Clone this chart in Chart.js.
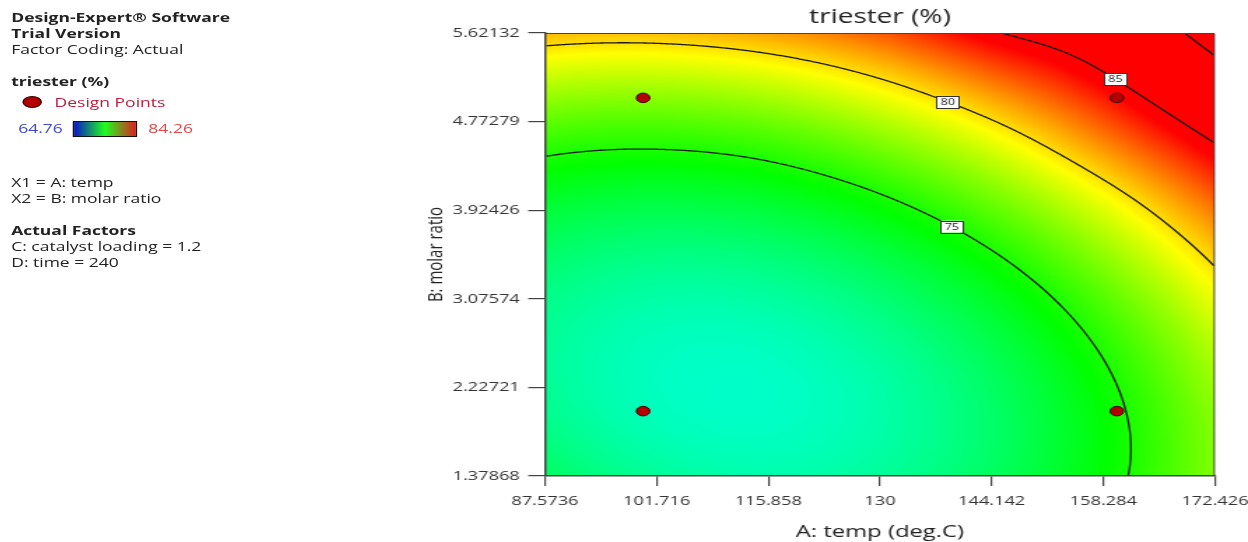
<!DOCTYPE html>
<html>
<head>
<meta charset="utf-8">
<title>triester (%)</title>
<script src="https://cdn.jsdelivr.net/npm/chart.js@4.4.1/dist/chart.umd.min.js"></script>
<style>
  html, body { margin: 0; padding: 0; background: #fff; overflow: hidden; }
  /* the reference is stretched sideways, so draw narrow and widen the whole page */
  #stage { position: absolute; left: 0; top: 0; width: 892px; height: 542px;
           transform: scaleX(1.3991); transform-origin: 0 0;
           font-family: 'Open Sans', sans-serif; color: #222; }
  #chart { position: absolute; left: 0; top: 0; }
  .line { position: absolute; left: 8px; font-size: 12.5px; line-height: 16px; white-space: pre; }
  .b { font-weight: bold; }
  .dot { position: absolute; left: 16px; top: 96px; width: 14px; height: 12px; border-radius: 50%;
         background: #b40000; border: 1px solid #300; box-sizing: border-box; }
  .bar { position: absolute; left: 52px; top: 121px; width: 46px; height: 16px; box-sizing: border-box;
         border: 1px solid #111; background: linear-gradient(to right, #0a14c8, #1eff1e, #e01e1e); }
</style>
</head>
<body>
<div id="stage">
  <div class="line b" style="top:10px">Design-Expert® Software</div>
  <div class="line b" style="top:26px">Trial Version</div>
  <div class="line" style="top:42px">Factor Coding: Actual</div>
  <div class="line b" style="top:74px">triester (%)</div>
  <div class="dot"></div>
  <div class="line" style="top:95px; left:39px; color:#b8203c">Design Points</div>
  <div class="line" style="top:121px; left:13px; color:#4048c8">64.76</div>
  <div class="bar"></div>
  <div class="line" style="top:121px; left:106px; color:#e04848">84.26</div>
  <div class="line" style="top:175px">X1 = A: temp</div>
  <div class="line" style="top:191px">X2 = B: molar ratio</div>
  <div class="line b" style="top:223px">Actual Factors</div>
  <div class="line" style="top:239px">C: catalyst loading = 1.2</div>
  <div class="line" style="top:255px">D: time = 240</div>
  <canvas id="chart" width="892" height="542"></canvas>
</div>
<script>
const tempTicks = [87.5736, 101.716, 115.858, 130, 144.142, 158.284, 172.426];
const ratioTicks = [1.37868, 2.22721, 3.07574, 3.92426, 4.77279, 5.62132];
const triester = [
  [72.69, 71.60, 71.24, 71.60, 72.69, 74.50, 77.04],
  [71.70, 70.85, 70.72, 71.31, 72.63, 74.68, 77.45],
  [71.95, 71.33, 71.44, 72.27, 73.82, 76.10, 79.10],
  [73.45, 73.06, 73.40, 74.46, 76.25, 78.76, 81.99],
  [76.30, 76.10, 76.59, 77.89, 79.91, 82.66, 86.13],
  [80.75, 80.60, 81.20, 82.56, 84.82, 86.90, 91.50]
];
const designTemp = [100, 160, 100, 160];
const designRatio = [2, 2, 5, 5];
const contourLevels = [75, 80, 85, 90];
const colourRange = [64.76, 84.26];

const nx = tempTicks.length, ny = ratioTicks.length;

// pad the grid by one cell on each side so the smooth shading keeps going to the frame
function cellAt(i, j) {
  if (j < 0) return 3 * cellAt(i, 0) - 3 * cellAt(i, 1) + cellAt(i, 2);
  if (j >= ny) return 3 * cellAt(i, ny - 1) - 3 * cellAt(i, ny - 2) + cellAt(i, ny - 3);
  const row = triester[j];
  if (i < 0) return 3 * row[0] - 3 * row[1] + row[2];
  if (i >= nx) return 3 * row[nx - 1] - 3 * row[nx - 2] + row[nx - 3];
  return row[i];
}
const ext = [];
for (let j = -1; j <= ny; j++) {
  const row = [];
  for (let i = -1; i <= nx; i++) row.push(cellAt(i, j));
  ext.push(row);
}

function cr(p0, p1, p2, p3, t) {
  return p1 + 0.5 * t * (p2 - p0 + t * (2 * p0 - 5 * p1 + 4 * p2 - p3 + t * (3 * (p1 - p2) + p3 - p0)));
}

function surfaceAt(t, r) {
  const u = (t - tempTicks[0]) / (tempTicks[1] - tempTicks[0]);
  const v = (r - ratioTicks[0]) / (ratioTicks[1] - ratioTicks[0]);
  const i = Math.min(Math.max(Math.floor(u), 0), nx - 2);
  const j = Math.min(Math.max(Math.floor(v), 0), ny - 2);
  const fu = u - i, fv = v - j;
  const col = [];
  for (let k = 0; k < 4; k++) {
    const row = ext[j + k];
    col.push(cr(row[i], row[i + 1], row[i + 2], row[i + 3], fu));
  }
  return cr(col[0], col[1], col[2], col[3], fv);
}

// blue - cyan - green - yellow - red
const ramp = [[0, 0, 255], [0, 255, 255], [0, 255, 0], [255, 255, 0], [255, 0, 0]];
function colourFor(z) {
  let t = (z - colourRange[0]) / (colourRange[1] - colourRange[0]);
  t = Math.min(Math.max(t, 0), 1) * 4;
  const k = Math.min(Math.floor(t), 3), f = t - k;
  const a = ramp[k], b = ramp[k + 1];
  return [a[0] + (b[0] - a[0]) * f, a[1] + (b[1] - a[1]) * f, a[2] + (b[2] - a[2]) * f];
}

const surfacePlugin = {
  id: 'surface',
  beforeDraw(chart, args, opts) {
    const { ctx, chartArea: area, scales: { x, y } } = chart;
    const left = Math.round(area.left), top = Math.round(area.top);
    const w = Math.round(area.right) - left, h = Math.round(area.bottom) - top;
    const off = document.createElement('canvas');
    off.width = w; off.height = h;
    const octx = off.getContext('2d');
    const img = octx.createImageData(w, h);
    const field = new Float32Array(w * h);
    for (let py = 0; py < h; py++) {
      const r = y.getValueForPixel(top + py + 0.5);
      for (let px = 0; px < w; px++) {
        const z = surfaceAt(x.getValueForPixel(left + px + 0.5), r);
        field[py * w + px] = z;
        const c = colourFor(z), o = (py * w + px) * 4;
        img.data[o] = c[0]; img.data[o + 1] = c[1]; img.data[o + 2] = c[2]; img.data[o + 3] = 255;
      }
    }
    octx.putImageData(img, 0, 0);
    ctx.drawImage(off, left, top);

    // contour lines, marching squares over the shaded field
    ctx.save();
    ctx.beginPath();
    ctx.rect(area.left, area.top, area.right - area.left, area.bottom - area.top);
    ctx.clip();
    ctx.strokeStyle = '#1a1a1a';
    ctx.lineWidth = 1.3;
    ctx.beginPath();
    for (const level of contourLevels) {
      for (let py = 0; py < h - 1; py++) {
        for (let px = 0; px < w - 1; px++) {
          const v00 = field[py * w + px], v10 = field[py * w + px + 1];
          const v01 = field[(py + 1) * w + px], v11 = field[(py + 1) * w + px + 1];
          const pts = [];
          const X = left + px + 0.5, Y = top + py + 0.5;
          if ((v00 < level) !== (v10 < level)) pts.push([X + (level - v00) / (v10 - v00), Y]);
          if ((v10 < level) !== (v11 < level)) pts.push([X + 1, Y + (level - v10) / (v11 - v10)]);
          if ((v01 < level) !== (v11 < level)) pts.push([X + (level - v01) / (v11 - v01), Y + 1]);
          if ((v00 < level) !== (v01 < level)) pts.push([X, Y + (level - v00) / (v01 - v00)]);
          for (let k = 0; k + 1 < pts.length; k += 2) {
            ctx.moveTo(pts[k][0], pts[k][1]);
            ctx.lineTo(pts[k + 1][0], pts[k + 1][1]);
          }
        }
      }
    }
    ctx.stroke();

    // level tags sitting on the lines
    ctx.font = '9px "Open Sans", sans-serif';
    ctx.textAlign = 'center';
    ctx.textBaseline = 'middle';
    ctx.lineWidth = 1;
    for (const tag of opts.tags) {
      let hi = ratioTicks[ny - 1], lo = hi;
      while (lo > ratioTicks[0] && surfaceAt(tag.temp, lo) >= tag.level) lo -= 0.01;
      for (let k = 0; k < 30; k++) {
        const mid = (hi + lo) / 2;
        if (surfaceAt(tag.temp, mid) >= tag.level) hi = mid; else lo = mid;
      }
      const cx = x.getPixelForValue(tag.temp), cy = y.getPixelForValue((hi + lo) / 2);
      const label = String(tag.level);
      const bw = ctx.measureText(label).width + 6, bh = 12;
      ctx.fillStyle = '#fff';
      ctx.fillRect(cx - bw / 2, cy - bh / 2, bw, bh);
      ctx.strokeStyle = '#333';
      ctx.strokeRect(Math.round(cx - bw / 2) + 0.5, Math.round(cy - bh / 2) + 0.5, Math.round(bw), bh);
      ctx.fillStyle = '#222';
      ctx.fillText(label, cx, cy + 0.5);
    }
    ctx.restore();

    // frame on the top and right side
    ctx.save();
    ctx.strokeStyle = '#444';
    ctx.lineWidth = 1;
    ctx.beginPath();
    ctx.moveTo(area.left, area.top + 0.5);
    ctx.lineTo(area.right - 0.5, area.top + 0.5);
    ctx.lineTo(area.right - 0.5, area.bottom);
    ctx.stroke();
    ctx.restore();
  }
};

const tickFont = { family: "'Open Sans', sans-serif", size: 13 };

new Chart(document.getElementById('chart'), {
  type: 'scatter',
  data: {
    datasets: [{
      label: 'Design Points',
      data: designTemp.map((t, k) => ({ x: t, y: designRatio[k] })),
      pointRadius: 4.8,
      pointHoverRadius: 4.8,
      pointBackgroundColor: '#b40000',
      pointBorderColor: '#3a0000',
      pointBorderWidth: 1
    }]
  },
  options: {
    responsive: false,
    animation: false,
    events: [],
    layout: { padding: { left: 303, right: 23.6, top: 0, bottom: 0 } },
    plugins: {
      legend: { display: false },
      tooltip: { enabled: false },
      title: {
        display: true,
        fullSize: false,
        text: 'triester (%)',
        color: '#222',
        font: { family: "'Open Sans', sans-serif", size: 20, weight: 'normal' },
        padding: { top: 5, bottom: 4 }
      },
      surface: {
        tags: [
          { level: 75, temp: 139.1 },
          { level: 80, temp: 138.6 },
          { level: 85, temp: 159.8 }
        ]
      }
    },
    scales: {
      x: {
        type: 'linear',
        min: tempTicks[0],
        max: tempTicks[nx - 1],
        afterBuildTicks: (s) => { s.ticks = tempTicks.map(v => ({ value: v })); },
        afterFit: (s) => { s.height = 66; s.paddingLeft = 0; s.paddingRight = 0; },
        ticks: {
          autoSkip: false, maxRotation: 0, padding: 7, color: '#333', font: tickFont,
          callback: (v, i) => String(tempTicks[i])
        },
        grid: { drawOnChartArea: false, drawTicks: true, tickLength: 10, color: '#444', lineWidth: 1.2 },
        border: { display: true, color: '#444', width: 1.5 },
        title: {
          display: true, text: 'A: temp (deg.C)', color: '#222',
          font: { family: "'Open Sans', sans-serif", size: 17 }, padding: { top: 0, bottom: 0 }
        }
      },
      y: {
        type: 'linear',
        min: ratioTicks[0],
        max: ratioTicks[ny - 1],
        afterBuildTicks: (s) => { s.ticks = ratioTicks.map(v => ({ value: v })); },
        afterFit: (s) => { s.width = 86.5; s.paddingTop = 0; s.paddingBottom = 0; },
        ticks: {
          autoSkip: false, padding: 6, color: '#333', font: tickFont,
          callback: (v, i) => String(ratioTicks[i])
        },
        grid: { drawOnChartArea: false, drawTicks: true, tickLength: 12, color: '#444', lineWidth: 1.2 },
        border: { display: true, color: '#444', width: 1.5 },
        title: {
          display: true, text: 'B: molar ratio', color: '#222',
          font: { family: "'Open Sans', sans-serif", size: 15 }, padding: { top: 0, bottom: 0 }
        }
      }
    }
  },
  plugins: [surfacePlugin]
});
</script>
</body>
</html>
